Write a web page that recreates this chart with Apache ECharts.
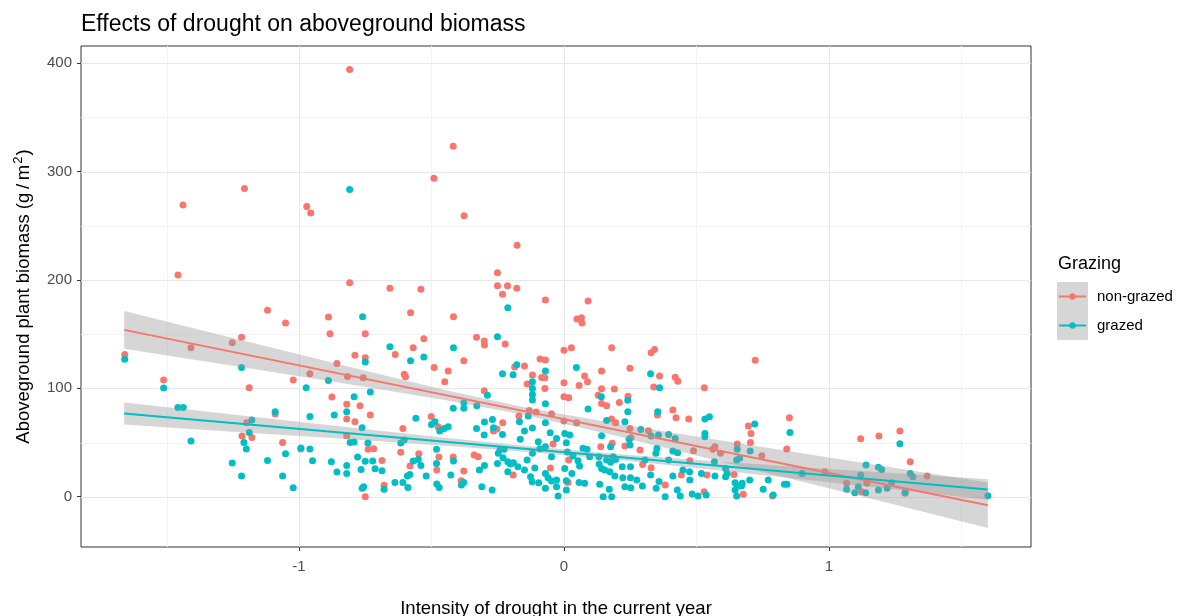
<!DOCTYPE html>
<html><head><meta charset="utf-8">
<script src="https://cdn.jsdelivr.net/npm/echarts@6/dist/echarts.min.js"></script>
<style>html,body{margin:0;padding:0;background:#fff}#c{width:1178px;height:616px}</style>
</head><body><div id="c"></div>
<script>
// ---- data ----
const nonGrazed = [
[-1.457,204.5],[-1.658,131.3],[-1.408,137.5],[-1.511,107.6],[-1.119,171.9],[-1.051,160.2],[-1.252,142.1],[-1.217,147.0],[-0.889,165.7],[-0.883,150.4],[-1.188,100.6],[-1.022,107.6],[-0.959,113.5],[-1.090,76.3],[-1.198,68.3],[-1.215,56.0],[-1.178,54.7],[-1.062,50.1],[-0.993,44.0],[-0.876,92.0],
[-0.809,394.2],[-1.438,269.0],[-1.206,284.4],[-0.971,267.8],[-0.956,261.7],[-0.418,323.3],[-0.491,293.9],[-0.377,259.2],
[-0.809,197.4],[-0.657,192.2],[-0.540,191.3],[-0.579,169.7],[-0.417,166.1],[-0.251,206.6],[-0.177,231.9],[-0.251,194.6],[-0.213,194.6],[-0.178,192.2],[-0.232,186.7],[-0.070,181.4],[-0.750,150.4],[-0.529,145.8],[-0.330,147.0],[-0.301,143.6],[-0.300,139.9],[-0.222,140.8],[-0.569,137.5],[-0.789,130.4],[-0.637,131.3],[-0.750,128.2],[-0.378,125.5],[-0.857,123.0],[0.000,135.0],[-0.090,127.0],[-0.070,126.1],[-0.490,119.3],[-0.437,115.9],[-0.603,112.9],[-0.598,110.7],[-0.758,109.8],[-0.817,111.0],[-0.450,106.1],[-0.186,119.6],[-0.149,120.5],[-0.119,112.2],[-0.072,109.8],[-0.072,99.9],[-0.139,103.9],[-0.301,97.8],[-0.731,75.3],[-0.770,83.9],[-0.820,85.2],[-0.820,71.6],[-0.789,69.2],[-0.501,74.1],[-0.608,63.0],[-0.231,68.3],[-0.266,60.6],[-0.253,62.4],[-0.475,64.6],[-0.170,74.4],[-0.131,79.6],[-0.105,78.1],[-0.047,76.6],[-0.820,56.3],[-0.739,43.7],[-0.718,44.3],[-0.616,40.9],[-0.548,39.7],[-0.472,36.6],[-0.418,36.6],[-0.339,38.4],[-0.324,36.9],[-0.687,33.5],[-0.480,24.6],[-0.581,28.3],[-0.378,23.7],[-0.679,10.5],[-0.750,0.0],[-0.388,14.8],[-0.192,20.0],[-0.051,26.4],[-0.041,48.6],[0.000,105.2],[-0.084,110.0],
[0.091,180.5],[0.049,163.9],[0.066,165.1],[0.068,160.2],[0.028,137.5],[0.180,137.5],[0.329,132.8],[0.342,135.9],[0.722,125.8],[0.249,118.4],[0.142,115.9],[0.078,111.3],[0.089,106.1],[0.057,102.7],[0.361,111.3],[0.420,110.1],[0.430,106.4],[0.339,101.2],[0.530,100.6],[0.142,99.6],[0.190,99.3],[0.000,92.3],[0.018,91.3],[0.129,93.5],[0.242,92.6],[0.209,87.0],[0.142,86.1],[0.161,84.0],[0.411,80.0],[0.423,72.9],[0.471,71.6],[0.353,75.3],[0.180,71.6],[0.195,68.3],[0.000,69.8],[0.048,68.3],[0.696,65.2],[0.706,58.4],[0.704,50.1],[0.851,72.9],[0.841,44.0],[0.747,37.8],[0.654,48.6],[0.562,43.7],[0.489,42.4],[0.475,33.2],[0.249,63.0],[0.319,60.9],[0.287,43.0],[0.230,46.7],[0.253,54.4],[0.182,49.2],[0.139,46.1],[0.018,33.8],[0.297,29.8],[0.329,26.8],[0.382,10.8],[0.443,20.0],[0.540,20.0],[0.642,20.6],[0.677,2.2],[0.787,0.6],[0.015,13.2],[0.529,4.6],[0.591,40.0],[0.570,46.1],
[1.120,53.5],[1.189,56.0],[1.268,60.6],[1.307,32.3],[1.371,19.1],[0.985,23.1],[1.067,12.3],[1.143,12.3],[1.124,4.6],[1.288,3.1],[0.899,21.5]
];
const grazed = [
[-1.658,126.7],[-1.511,100.2],[-1.457,82.4],[-1.437,82.4],[-1.408,51.4],[-1.217,119.3],[-1.090,78.4],[-1.178,70.7],[-1.188,59.3],[-1.208,50.1],[-1.199,44.0],[-1.252,31.1],[-1.217,19.1],[-1.119,33.5],[-1.051,39.7],[-1.062,19.1],[-1.022,8.3],[-0.973,100.6],[-0.959,74.1],[-0.959,44.0],[-0.949,33.2],[-0.889,107.3],[-0.878,32.3],[-0.993,44.9],
[-0.809,283.4],
[-0.760,166.0],[-0.212,174.4],[-0.251,147.6],[-0.657,138.4],[-0.417,137.5],[-0.529,128.8],[-0.579,125.5],[-0.750,124.2],[-0.178,121.8],[-0.192,112.5],[-0.232,113.5],[-0.070,115.9],[-0.119,106.1],[-0.119,99.9],[-0.119,94.4],[-0.119,89.2],[-0.070,85.8],[-0.731,96.6],[-0.792,92.3],[-0.289,93.5],[-0.378,86.7],[-0.418,81.5],[-0.378,81.5],[-0.329,84.0],[-0.867,75.3],[-0.820,78.4],[-0.559,72.3],[-0.500,66.7],[-0.487,69.2],[-0.469,60.6],[-0.452,63.0],[-0.437,64.6],[-0.762,63.7],[-0.330,63.0],[-0.300,68.9],[-0.270,71.3],[-0.266,63.7],[-0.301,56.9],[-0.232,57.5],[-0.168,69.2],[-0.149,60.6],[-0.119,63.3],[-0.135,74.4],[-0.070,68.3],[-0.052,59.0],[-0.165,52.9],[-0.097,50.7],[-0.028,53.8],[-0.807,50.1],[-0.792,50.4],[-0.740,49.5],[-0.616,49.5],[-0.603,52.3],[-0.481,43.7],[-0.779,36.6],[-0.750,32.6],[-0.722,32.9],[-0.820,28.9],[-0.713,25.8],[-0.687,24.0],[-0.857,22.8],[-0.820,21.5],[-0.766,25.2],[-0.569,32.9],[-0.550,34.4],[-0.540,28.9],[-0.582,20.6],[-0.591,19.1],[-0.608,13.2],[-0.638,13.2],[-0.589,8.6],[-0.679,6.8],[-0.762,7.7],[-0.756,9.2],[-0.520,19.1],[-0.481,30.7],[-0.480,11.7],[-0.471,8.6],[-0.417,32.9],[-0.427,20.0],[-0.387,10.8],[-0.378,13.2],[-0.310,9.2],[-0.271,6.2],[-0.319,24.6],[-0.300,28.9],[-0.251,30.7],[-0.241,43.7],[-0.248,40.0],[-0.230,36.0],[-0.226,43.7],[-0.212,32.3],[-0.202,30.1],[-0.191,31.4],[-0.212,23.1],[-0.174,27.7],[-0.149,24.6],[-0.139,33.8],[-0.119,40.0],[-0.091,44.3],[-0.070,46.1],[-0.047,36.9],[-0.110,26.4],[-0.126,18.5],[-0.120,13.8],[-0.095,12.9],[-0.070,21.5],[-0.060,17.5],[-0.047,14.5],[-0.070,7.7],[-0.028,15.4],[-0.022,0.6],[-0.028,9.2],
[0.047,119.3],[0.327,113.5],[0.361,100.6],[0.141,92.3],[0.241,88.9],[0.241,78.4],[0.091,80.9],[0.354,78.4],[0.161,70.4],[0.230,69.2],[0.532,71.6],[0.549,73.8],[0.720,67.0],[0.853,59.3],[0.532,58.4],[0.532,55.4],[0.290,62.1],[0.003,58.4],[0.022,56.9],[0.142,56.3],[0.246,52.9],[0.395,57.5],[0.357,56.9],[0.329,56.0],[0.420,53.8],[0.072,44.6],[0.087,43.7],[0.176,46.1],[0.249,47.7],[0.351,44.6],[0.411,42.1],[0.429,40.6],[0.347,40.0],[0.654,43.7],[0.652,33.8],[0.703,42.1],[0.568,32.3],[0.610,26.1],[0.663,35.4],[0.009,49.8],[0.013,41.2],[0.034,37.5],[0.053,33.2],[0.059,28.3],[0.003,26.1],[0.030,21.5],[0.009,14.8],[0.009,6.2],[0.057,13.2],[0.078,12.3],[0.132,36.9],[0.133,30.1],[0.142,26.1],[0.154,24.6],[0.161,33.8],[0.176,31.7],[0.186,36.9],[0.195,34.4],[0.173,23.1],[0.192,19.1],[0.135,11.4],[0.171,6.8],[0.148,0.0],[0.180,0.0],[0.220,27.7],[0.251,27.7],[0.222,17.5],[0.251,17.5],[0.230,9.2],[0.252,8.3],[0.275,15.4],[0.296,9.8],[0.327,20.0],[0.348,7.7],[0.359,14.1],[0.382,0.0],[0.411,19.1],[0.428,6.2],[0.439,0.6],[0.449,24.6],[0.475,15.4],[0.484,2.5],[0.506,0.6],[0.519,21.5],[0.570,19.1],[0.537,1.5],[0.610,18.5],[0.616,21.5],[0.646,12.9],[0.654,9.8],[0.646,6.2],[0.652,0.6],[0.670,9.8],[0.673,12.3],[0.701,15.4],[0.752,6.8],[0.771,15.4],[0.790,1.5],[0.832,11.4],[0.842,11.4],[0.474,23.1],[0.306,33.8],[0.395,33.8],[0.097,36.9],
[1.268,48.9],[1.140,29.2],[1.187,27.1],[1.199,25.2],[1.120,20.0],[1.307,21.5],[1.317,18.5],[1.067,6.8],[1.098,3.7],[1.139,3.7],[1.111,9.2],[1.187,6.2],[1.220,7.7],[1.237,12.9],[1.288,4.0],[1.600,0.9],[0.899,21.5]
];
// fitted lines (read at the ends)
const fitX = [-1.66, 1.6];
const fitNonGrazed = [153.9, -7.8];
const fitGrazed = [76.7, 6.6];
// confidence bands (read at these x positions)
const bandX = [-1.66, -1.25, -0.85, -0.45, -0.15, 0.2, 0.6, 1.0, 1.3, 1.6];
const bandNonGrazedUpper = [171.3, 146.4, 122.2, 98.5, 82.5, 67.4, 51.6, 36.2, 24.7, 13.2];
const bandNonGrazedLower = [136.5, 120.8, 105.4, 89.3, 75.5, 56.0, 32.0, 7.8, -10.5, -28.8];
const bandGrazedUpper = [86.9, 75.8, 65.0, 54.5, 46.9, 39.4, 32.2, 25.6, 20.9, 16.1];
const bandGrazedLower = [66.5, 60.0, 53.6, 46.9, 41.5, 34.0, 24.0, 13.4, 5.3, -2.9];
// ticks / grid
const xTicks = [-1, 0, 1];
const xMinor = [-1.5, -0.5, 0.5, 1.5];
const yTicks = [0, 100, 200, 300, 400];
const yMinor = [50, 150, 250, 350];
const legendTitle = 'Grazing';
const legendLabels = ['non-grazed', 'grazed'];

// ---- styles ----
const RED = '#F8766D', TEAL = '#00BFC4';
const FONT = "'Liberation Sans', Arial, sans-serif";
const chart = echarts.init(document.getElementById('c'));

function gridLines(vertical, color) {
  return function (params, api) {
    const cs = params.coordSys;
    const v = api.value(vertical ? 0 : 1);
    let shape;
    if (vertical) {
      const x = Math.round(api.coord([v, 0])[0]) + 0.5;
      shape = { x1: x, y1: cs.y, x2: x, y2: cs.y + cs.height };
    } else {
      const y = Math.round(api.coord([0, v])[1]) + 0.5;
      shape = { x1: cs.x, y1: y, x2: cs.x + cs.width, y2: y };
    }
    return { type: 'line', shape: shape, style: { stroke: color, lineWidth: 1 } };
  };
}
function band(upper, lower) {
  return function (params, api) {
    const pts = [];
    for (let i = 0; i < bandX.length; i++) pts.push(api.coord([bandX[i], upper[i]]));
    for (let i = bandX.length - 1; i >= 0; i--) pts.push(api.coord([bandX[i], lower[i]]));
    return { type: 'polygon', shape: { points: pts }, style: { fill: 'rgba(153,153,153,0.4)' } };
  };
}
const gridSeries = (data, vertical, color) => ({
  type: 'custom', coordinateSystem: 'cartesian2d', silent: true, z: 1,
  data: data.map(v => vertical ? [v, 0] : [0, v]), renderItem: gridLines(vertical, color)
});

const option = {
  animation: false,
  textStyle: { fontFamily: FONT },
  title: {
    text: 'Effects of drought on aboveground biomass', left: 81, top: 13, padding: 0,
    textStyle: { fontSize: 23, fontWeight: 'normal', color: '#000', fontFamily: FONT }
  },
  grid: { left: 81, right: 147, top: 46, bottom: 69, show: true, borderColor: '#333', borderWidth: 1,
          containLabel: false, outerBoundsMode: 'none' },
  xAxis: {
    type: 'value', min: -1.823, max: 1.763,
    axisLine: { show: false, onZero: false },
    axisTick: { show: true, customValues: xTicks, length: 4, lineStyle: { color: '#333' } },
    axisLabel: { customValues: xTicks, color: '#4D4D4D', fontSize: 15, margin: 12, fontFamily: FONT },
    splitLine: { show: false },
    name: 'Intensity of drought in the current year', nameLocation: 'middle', nameGap: 52,
    nameTextStyle: { color: '#000', fontSize: 18.5, fontFamily: FONT }
  },
  yAxis: {
    type: 'value', min: -46.4, max: 415.8,
    axisLine: { show: false, onZero: false },
    axisTick: { show: true, customValues: yTicks, length: 4, lineStyle: { color: '#333' } },
    axisLabel: { customValues: yTicks, color: '#4D4D4D', fontSize: 15, margin: 9, fontFamily: FONT },
    splitLine: { show: false },
    name: 'Aboveground plant biomass (g\u2009/\u2009m{sup|2})', nameLocation: 'middle', nameGap: 45,
    nameTextStyle: { color: '#000', fontSize: 18.5, fontFamily: FONT, lineHeight: 24,
      rich: { sup: { fontSize: 13, fontFamily: FONT, color: '#000', verticalAlign: 'top', lineHeight: 24, padding: [0, 1, 10, 1] } } }
  },
  series: [
    gridSeries(xMinor, true, '#F3F3F3'),
    gridSeries(yMinor, false, '#F3F3F3'),
    gridSeries(xTicks, true, '#E8E8E8'),
    gridSeries(yTicks, false, '#E8E8E8'),
    { type: 'scatter', name: legendLabels[0], data: nonGrazed, symbolSize: 7, z: 2,
      itemStyle: { color: RED, opacity: 1 } },
    { type: 'scatter', name: legendLabels[1], data: grazed, symbolSize: 7, z: 2,
      itemStyle: { color: TEAL, opacity: 1 } },
    { type: 'custom', coordinateSystem: 'cartesian2d', silent: true, z: 3,
      data: [[bandX[0], bandNonGrazedUpper[0]]], renderItem: band(bandNonGrazedUpper, bandNonGrazedLower) },
    { type: 'line', data: fitX.map((x, i) => [x, fitNonGrazed[i]]), showSymbol: false, z: 4,
      lineStyle: { color: RED, width: 2 } },
    { type: 'custom', coordinateSystem: 'cartesian2d', silent: true, z: 3,
      data: [[bandX[0], bandGrazedUpper[0]]], renderItem: band(bandGrazedUpper, bandGrazedLower) },
    { type: 'line', data: fitX.map((x, i) => [x, fitGrazed[i]]), showSymbol: false, z: 4,
      lineStyle: { color: TEAL, width: 2 } }
  ],
  graphic: [
    { type: 'text', x: 1058, y: 264, style: { text: legendTitle, fill: '#000', font: '18px ' + FONT, verticalAlign: 'middle', align: 'left' } },
    { type: 'rect', shape: { x: 1057, y: 282, width: 31, height: 58 }, style: { fill: '#D6D6D6' } },
    { type: 'line', shape: { x1: 1059, y1: 296.5, x2: 1086, y2: 296.5 }, style: { stroke: RED, lineWidth: 2 } },
    { type: 'circle', shape: { cx: 1072.5, cy: 296.5, r: 3.2 }, style: { fill: RED } },
    { type: 'line', shape: { x1: 1059, y1: 325.5, x2: 1086, y2: 325.5 }, style: { stroke: TEAL, lineWidth: 2 } },
    { type: 'circle', shape: { cx: 1072.5, cy: 325.5, r: 3.2 }, style: { fill: TEAL } },
    { type: 'text', x: 1097, y: 296.5, style: { text: legendLabels[0], fill: '#000', font: '15px ' + FONT, verticalAlign: 'middle', align: 'left' } },
    { type: 'text', x: 1097, y: 325.5, style: { text: legendLabels[1], fill: '#000', font: '15px ' + FONT, verticalAlign: 'middle', align: 'left' } }
  ]
};
chart.setOption(option);
</script>
</body></html>
